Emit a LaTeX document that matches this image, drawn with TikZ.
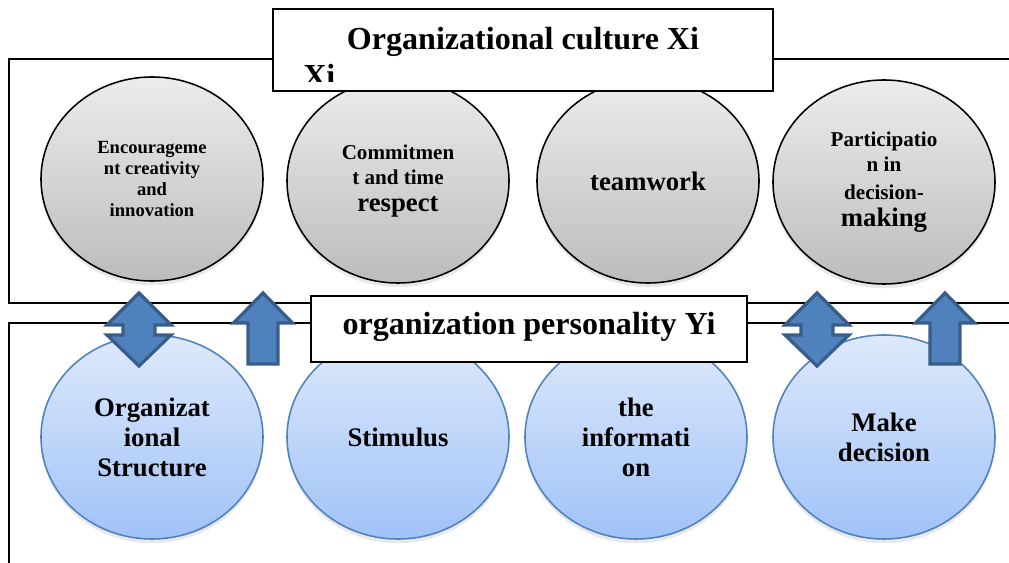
\documentclass[tikz,border=0pt]{standalone}
\usepackage{fontspec}
\setmainfont{Liberation Serif}
\usetikzlibrary{shapes.geometric,shadows}
\definecolor{arrowfill}{RGB}{79,129,189}
\definecolor{arrowline}{RGB}{56,93,138}
\definecolor{ringblue}{RGB}{79,129,189}
\definecolor{graytop}{RGB}{236,236,236}
\definecolor{graybot}{RGB}{188,188,188}
\definecolor{bluetop}{RGB}{222,233,251}
\definecolor{bluebot}{RGB}{160,194,248}
\begin{document}
\begin{tikzpicture}[x=0.025cm,y=-0.025cm,
  ring/.style={ellipse,minimum width=5.55cm,minimum height=5.1cm,line width=1.1pt,align=center,
    drop shadow={opacity=0.18,shadow xshift=0pt,shadow yshift=-3pt}},
  culture/.style={ring,draw=black,top color=graytop,bottom color=graybot},
  persona/.style={ring,draw=ringblue,top color=bluetop,bottom color=bluebot},
  titlebox/.style={draw=black,fill=white,line width=1.1pt,inner sep=0pt},
  titletext/.style={font=\fontsize{22.8}{26}\selectfont\bfseries,inner sep=0pt},
  txtsmall/.style={font=\fontsize{13.2}{15}\selectfont\bfseries},
  txtmid/.style={font=\fontsize{15}{17.8}\selectfont\bfseries},
  txtbig/.style={font=\fontsize{19}{21.3}\selectfont\bfseries},
  blockarrow/.style={fill=arrowfill,draw=arrowline,line width=2.3pt,line join=miter}]
\useasboundingbox (0,0) rectangle (1009,563);
\newcommand\blockup[1]{
\path[blockarrow] (#1,293) -- (#1+29.5,323) -- (#1+15,323) -- (#1+15,364) -- (#1-15,364)
  -- (#1-15,323) -- (#1-29.5,323) -- cycle;
}
\newcommand\blockboth[1]{
\path[blockarrow] (#1,293) -- (#1+32,325) -- (#1+16,325) -- (#1+16,335) -- (#1+32,335)
  -- (#1,366) -- (#1-32,335) -- (#1-16,335) -- (#1-16,325) -- (#1-32,325) -- cycle;
}
\path[draw,line width=0.8pt] (1009,59) -- (9,59) -- (9,303) -- (1009,303);
\path[draw,line width=0.8pt] (1009,323) -- (9,323) -- (9,563);
\node[culture,txtsmall] (c1) at (152,179) {Encourageme\\nt creativity\\and\\innovation};
\node[culture,txtmid] (c2) at (398,181) {Commitmen\\t and time\\[1pt]{\fontsize{19}{21}\selectfont respect}};
\node[culture,txtbig] (c3) at (648,181) {teamwork};
\node[culture,txtmid] (c4) at (884,182) {Participatio\\n in\\[2pt]decision-\\[1pt]{\fontsize{19}{21}\selectfont making}};
\node[persona,txtbig] (p1) at (152,437) {Organizat\\ional\\Structure};
\node[persona,txtbig] (p2) at (398,437) {Stimulus};
\node[persona,txtbig] (p3) at (636,437) {the\\informati\\on};
\node[persona,txtbig] (p4) at (884,437) {Make\\decision};
\node[titlebox,minimum width=12.5cm,minimum height=2.05cm] (culture) at (523,50) {};
\node[titletext,anchor=base] (ctitle) at (523,50) {Organizational culture Xi};
\begin{scope}
\clip (273,9) rectangle (773,82);
\node[titletext,anchor=base west] (xi) at (303,87) {Xi};
\end{scope}
\node[titlebox,minimum width=10.9cm,minimum height=1.65cm] (persbox) at (529,329) {};
\node[titletext,anchor=base] (ptitle) at (529,335) {organization personality Yi};
\blockboth{139}
\blockup{263}
\blockboth{817}
\blockup{945}
\end{tikzpicture}
\end{document}
